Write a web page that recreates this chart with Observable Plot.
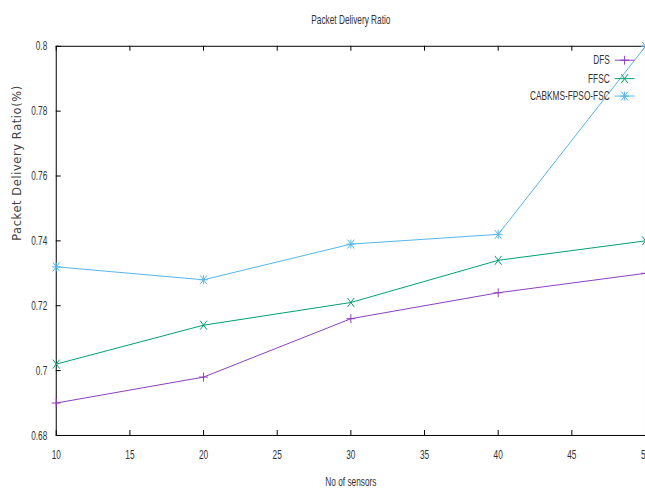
<!DOCTYPE html>
<html>
<head>
<meta charset="utf-8">
<script src="https://cdn.jsdelivr.net/npm/d3@7"></script>
<script src="https://cdn.jsdelivr.net/npm/@observablehq/plot@0.6"></script>
<style>
  html, body { margin: 0; padding: 0; background: #fff; overflow: hidden; }
  #chart { width: 645px; height: 493px; overflow: hidden; }
</style>
</head>
<body>
<div id="chart"></div>
<script>
// Packet delivery ratio against number of sensors
const sensors = [10, 20, 30, 40, 50];
const dfs     = [0.690, 0.698, 0.716, 0.724, 0.730];
const ffsc    = [0.702, 0.714, 0.721, 0.734, 0.740];
const cabkms  = [0.732, 0.728, 0.739, 0.742, 0.800];
const seriesNames = ["DFS", "FFSC", "CABKMS-FPSO-FSC"];
const seriesColors = ["#8a3fbf", "#009e73", "#56b4e9"];
const xTicks = [10, 15, 20, 25, 30, 35, 40, 45, 50];
const yTicks = [0.68, 0.70, 0.72, 0.74, 0.76, 0.78, 0.80];
const titleText = "Packet Delivery Ratio";
const xLabel = "No of sensors";
const yLabel = "Packet Delivery Ratio(%)";

const seriesValues = [dfs, ffsc, cabkms];
const rows = seriesNames.flatMap((name, i) =>
  sensors.map((s, j) => ({series: name, sensors: s, ratio: seriesValues[i][j]})));

// gnuplot-like point glyphs
const plusSym = {draw(ctx, size) { const r = Math.sqrt(size / Math.PI);
  ctx.moveTo(-r, 0); ctx.lineTo(r, 0); ctx.moveTo(0, -r); ctx.lineTo(0, r); }};
const timesSym = {draw(ctx, size) { const r = Math.sqrt(size / Math.PI); const w = r * 0.75;
  ctx.moveTo(-w, -r); ctx.lineTo(w, r); ctx.moveTo(-w, r); ctx.lineTo(w, -r); }};
const starSym = {draw(ctx, size) { const r = Math.sqrt(size / Math.PI); const w = r * 0.75;
  ctx.moveTo(-w, -r); ctx.lineTo(w, r); ctx.moveTo(-w, r); ctx.lineTo(w, -r);
  ctx.moveTo(0, -r); ctx.lineTo(0, r); ctx.moveTo(-r, 0); ctx.lineTo(r, 0); }};
const symbols = [plusSym, timesSym, starSym];
const sampleLine = {draw(ctx) { ctx.moveTo(-10, 0); ctx.lineTo(10, 0); }};

const W = 648, H = 493, mL = 56, mR = 0, mT = 46, mB = 56;
const innerH = H - mT - mB;
const innerW = W - mL - mR;
const tickLen = 5;
const ink = "#333";

const marks = [
  Plot.frame({stroke: "#000", strokeWidth: 1}),
  // inward ticks on bottom/top and left
  Plot.ruleX(xTicks, {x: d => d, insetTop: innerH - tickLen, stroke: "#000"}),
  Plot.ruleX(xTicks, {x: d => d, insetBottom: innerH - tickLen, stroke: "#000"}),
  Plot.ruleY(yTicks, {y: d => d, insetRight: innerW - tickLen, stroke: "#000"}),
  Plot.axisX({ticks: xTicks, tickSize: 0, tickPadding: 14, tickFormat: d => String(d), label: null,
    fontSize: 13, fill: ink}),
  Plot.axisY({ticks: yTicks, tickSize: 0, tickPadding: 9, tickFormat: d => String(+d.toFixed(2)), label: null,
    fontSize: 13, fill: ink}),
];

seriesNames.forEach((name, i) => {
  const data = rows.filter(d => d.series === name);
  marks.push(
    Plot.line(data, {x: "sensors", y: "ratio", stroke: seriesColors[i], strokeWidth: 1}),
    Plot.dot(data, {x: "sensors", y: "ratio", symbol: symbols[i], r: 4.5, stroke: seriesColors[i], strokeWidth: 1, fill: "none"})
  );
});

// legend, top right
const legendDy = [14, 32.5, 50];
seriesNames.forEach((name, i) => {
  marks.push(
    Plot.text([name], {text: d => d, frameAnchor: "top-right", dx: -36, dy: legendDy[i],
      textAnchor: "end", lineAnchor: "middle", fontSize: 13, fill: ink}),
    Plot.dot([name], {frameAnchor: "top-right", dx: -21, dy: legendDy[i], symbol: sampleLine, stroke: seriesColors[i], strokeWidth: 1}),
    Plot.dot([name], {frameAnchor: "top-right", dx: -21, dy: legendDy[i], symbol: symbols[i], r: 4.5, stroke: seriesColors[i], strokeWidth: 1, fill: "none"})
  );
});

// title and axis titles
marks.push(
  Plot.text([titleText], {text: d => d, frameAnchor: "top", lineAnchor: "middle", dy: -27, fontSize: 13, fill: ink}),
  Plot.text([xLabel], {text: d => d, frameAnchor: "bottom", lineAnchor: "middle", dy: 47, fontSize: 13, fill: ink}),
  Plot.text([yLabel], {text: d => d, frameAnchor: "left", dx: -39.5, rotate: -90, fontSize: 11.5,
    fill: "#444", fontFamily: "DejaVu Sans, Verdana, sans-serif", className: "ylab"})
);

const chart = Plot.plot({
  width: W, height: H,
  marginLeft: mL, marginRight: mR, marginTop: mT, marginBottom: mB,
  style: {fontFamily: "'Liberation Sans', Arial, sans-serif", background: "#fff", overflow: "visible"},
  x: {domain: [10, 50]},
  y: {domain: [0.68, 0.80]},
  marks
});
document.getElementById("chart").append(chart);

// letter spacing for the rotated y title
chart.querySelectorAll(".ylab text").forEach(t => t.setAttribute("letter-spacing", "0.6"));

// narrow the glyphs of the other labels (horizontal squeeze around the text anchor)
const squeeze = 0.64;
chart.querySelectorAll("text").forEach(t => {
  if (t.closest(".ylab")) return;
  const bb = t.getBBox();
  const anchor = getComputedStyle(t).textAnchor;
  const ax = anchor === "end" ? bb.x + bb.width : anchor === "middle" ? bb.x + bb.width / 2 : bb.x;
  const prev = t.getAttribute("transform") || "";
  t.setAttribute("transform", `${prev} translate(${ax},0) scale(${squeeze},1) translate(${-ax},0)`);
});
</script>
</body>
</html>
